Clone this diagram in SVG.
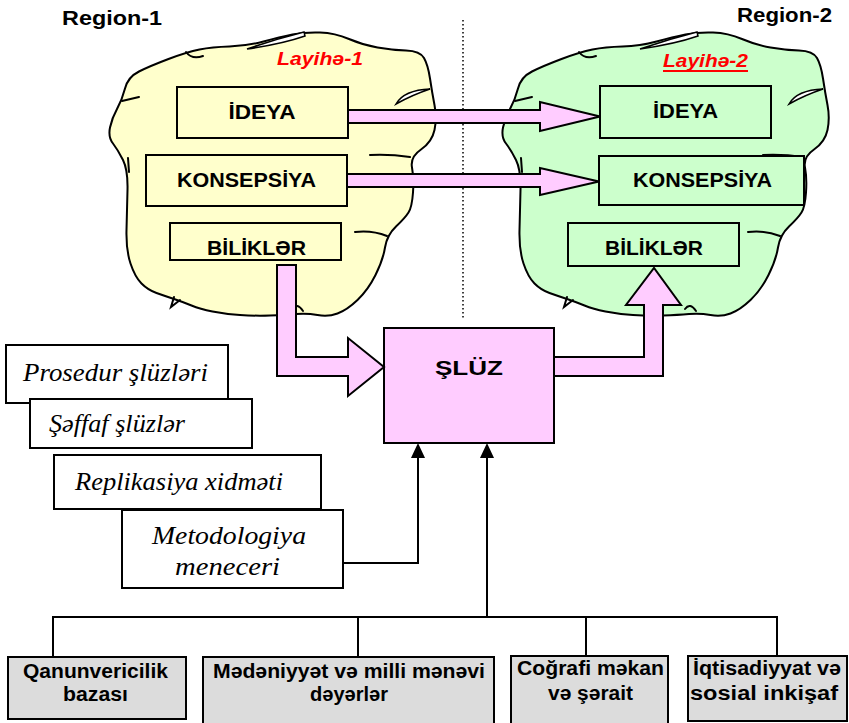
<svg xmlns="http://www.w3.org/2000/svg" xmlns:xlink="http://www.w3.org/1999/xlink" width="849" height="723" viewBox="0 0 849 723">
  <style>
    .box { stroke: #000; stroke-width: 2; }
    .yel { fill: #FFFFCC; }
    .grn { fill: #CCFFCC; }
    .pink { fill: #FFCCFF; stroke: #000; stroke-width: 2; stroke-linejoin: miter; }
    .white { fill: #FFFFFF; stroke: #000; stroke-width: 2; }
    .gray { fill: #DCDCDC; stroke: #000; stroke-width: 2; }
    .wire { fill: none; stroke: #000; stroke-width: 2; }
    .lbl { font-family: "Liberation Sans", Arial, sans-serif; font-weight: bold; font-size: 21px; text-anchor: middle; fill: #000; }
    .reg { font-family: "Liberation Sans", Arial, sans-serif; font-weight: bold; font-size: 21px; fill: #000; }
    .proj { font-family: "Liberation Sans", Arial, sans-serif; font-weight: bold; font-style: italic; font-size: 19px; fill: #FF0000; }
    .it { font-family: "Liberation Serif", "Times New Roman", serif; font-style: italic; font-size: 25px; fill: #000; }
    .bot { font-family: "Liberation Sans", Arial, sans-serif; font-weight: bold; font-size: 20px; text-anchor: middle; fill: #000; }
  </style>
  <defs>
    <!-- hand-drawn cloud outline with its folds; fill comes from the <use> -->
    <g id="cloud">
      <path stroke="#000" stroke-width="2" stroke-linejoin="round" d="M125,88.5 Q128,77 139,71.5 Q150,66 168.5,59 Q187,52 199.5,49.5 Q212,47 229.5,46.5 Q247,46 263.5,41.5 Q280,37 292.5,34.5 Q305,32 320,32.5 Q335,33 349,39 Q363,45 377.5,47.5 Q392,50 406,50.5 Q420,51 424,58 Q428,65 430,78.5 Q432,92 434.5,105 Q437,118 434.5,130 Q432,142 421,149.5 Q410,157 412,167.5 Q414,178 413,192.5 Q412,207 408.5,212.5 Q405,218 396,226.5 Q387,235 385,247.5 Q383,260 375.5,275 Q368,290 357.5,300 Q347,310 337.5,313.5 Q328,317 317.5,315 Q307,313 296,314 Q285,315 270,315.5 Q255,316 240,315 Q225,314 212.5,311.5 Q200,309 191.5,305.5 Q183,302 174,299 Q165,296 156.5,293 Q148,290 141.5,283.5 Q135,277 130.5,263.5 Q126,250 126.5,230 Q127,210 127.5,190 Q128,170 123,160 Q118,150 113,143.5 Q108,137 110,127.5 Q112,118 117,109 Q122,100 125,88.5 Z"/>
      <path d="M247,49 Q276,39 304,32 L305,36 Q282,44 247,49 Z" fill="#FFFFFF" stroke="#000" stroke-width="1.5"/>
      <path d="M396,104 Q404,90 430,89 Q412,95 396,104 Z" fill="#FFFFFF" stroke="#000" stroke-width="1.5"/>
      <g fill="none" stroke="#000" stroke-width="2" stroke-linecap="round">
        <path d="M186,52 Q192,60 203,56"/>
        <path d="M122,101 L139,97"/>
        <path d="M128,158 L129,172"/>
        <path d="M370,155 Q390,154 410,157"/>
        <path d="M355,232 Q372,230 387,236"/>
        <path d="M174,297 L171,307 L180,300"/>
        <path d="M292,309 Q297,302 303,311"/>
      </g>
    </g>
  </defs>

  <!-- region labels and divider -->
  <g id="region-1-label"><text class="reg" x="62" y="25" textLength="100" lengthAdjust="spacingAndGlyphs">Region-1</text></g>
  <g id="region-2-label"><text class="reg" x="737" y="22" textLength="95" lengthAdjust="spacingAndGlyphs">Region-2</text></g>
  <line x1="463" y1="20" x2="463" y2="318" stroke="#000" stroke-width="1.5" stroke-dasharray="1.5 2.5"/>

  <!-- project clouds -->
  <g id="cloud-1"><use xlink:href="#cloud" fill="#FFFFCC"/></g>
  <g id="cloud-2"><use xlink:href="#cloud" fill="#CCFFCC" transform="translate(393,0)"/></g>

  <g id="project-1-title"><text class="proj" x="277" y="65" textLength="86" lengthAdjust="spacingAndGlyphs">Layihə-1</text></g>
  <g id="project-2-title">
    <text class="proj" x="663" y="67" textLength="85" lengthAdjust="spacingAndGlyphs">Layihə-2</text>
    <line x1="663" y1="71" x2="748" y2="71" stroke="#FF0000" stroke-width="2"/>
  </g>

  <!-- project 1 components -->
  <g id="p1-ideya"><rect class="box yel" x="177" y="87" width="171" height="51"/><text class="lbl" x="262" y="119" textLength="67" lengthAdjust="spacingAndGlyphs">İDEYA</text></g>
  <g id="p1-konsepsiya"><rect class="box yel" x="146" y="155" width="201" height="51"/><text class="lbl" x="246.5" y="187" textLength="139" lengthAdjust="spacingAndGlyphs">KONSEPSİYA</text></g>
  <g id="p1-bilikler"><rect class="box yel" x="170" y="223" width="171" height="37"/><text class="lbl" x="256.5" y="255" textLength="99" lengthAdjust="spacingAndGlyphs">BİLİKLƏR</text></g>

  <!-- project 2 components -->
  <g id="p2-ideya"><rect class="box grn" x="600" y="86" width="171" height="52"/><text class="lbl" x="685.5" y="118" textLength="65" lengthAdjust="spacingAndGlyphs">İDEYA</text></g>
  <g id="p2-konsepsiya"><rect class="box grn" x="599" y="156" width="205" height="49"/><text class="lbl" x="702.5" y="187" textLength="139" lengthAdjust="spacingAndGlyphs">KONSEPSİYA</text></g>
  <g id="p2-bilikler"><rect class="box grn" x="568" y="223" width="171" height="43"/><text class="lbl" x="654" y="255" textLength="98" lengthAdjust="spacingAndGlyphs">BİLİKLƏR</text></g>

  <!-- gateway -->
  <g id="gateway"><rect class="pink" x="384" y="328" width="170" height="115"/><text class="lbl" x="469" y="375" font-size="26" textLength="68" lengthAdjust="spacingAndGlyphs">ŞLÜZ</text></g>

  <!-- gateway components (stacked cards) -->
  <g id="card-procedural"><rect class="white" x="6" y="345" width="222" height="58"/><text class="it" x="23" y="381" textLength="185" lengthAdjust="spacingAndGlyphs">Prosedur şlüzləri</text></g>
  <g id="card-transparent"><rect class="white" x="30" y="399" width="222" height="49"/><text class="it" x="49" y="432" textLength="136" lengthAdjust="spacingAndGlyphs">Şəffaf şlüzlər</text></g>
  <g id="card-replication"><rect class="white" x="54" y="455" width="267" height="54"/><text class="it" x="75" y="490" textLength="208" lengthAdjust="spacingAndGlyphs">Replikasiya xidməti</text></g>
  <g id="card-methodology">
    <rect class="white" x="122" y="510" width="221" height="78"/>
    <text class="it" x="229" y="544" text-anchor="middle" textLength="154" lengthAdjust="spacingAndGlyphs">Metodologiya</text>
    <text class="it" x="227.5" y="575" text-anchor="middle" textLength="105" lengthAdjust="spacingAndGlyphs">meneceri</text>
  </g>

  <!-- environment factors -->
  <g id="factor-law"><rect class="gray" x="8" y="657" width="178" height="62"/>
    <text class="bot" x="95.5" y="678" textLength="145" lengthAdjust="spacingAndGlyphs">Qanunvericilik</text>
    <text class="bot" x="95.5" y="701" textLength="65" lengthAdjust="spacingAndGlyphs">bazası</text></g>
  <g id="factor-culture"><rect class="gray" x="203" y="657" width="291" height="75"/>
    <text class="bot" x="349" y="678" textLength="272" lengthAdjust="spacingAndGlyphs">Mədəniyyət və milli mənəvi</text>
    <text class="bot" x="349" y="701" textLength="78" lengthAdjust="spacingAndGlyphs">dəyərlər</text></g>
  <g id="factor-geography"><rect class="gray" x="511" y="656" width="157" height="76"/>
    <text class="bot" x="590.5" y="675" textLength="147" lengthAdjust="spacingAndGlyphs">Coğrafi məkan</text>
    <text class="bot" x="590.5" y="700" textLength="85" lengthAdjust="spacingAndGlyphs">və şərait</text></g>
  <g id="factor-economy"><rect class="gray" x="688" y="656" width="159" height="65"/>
    <text class="bot" x="767" y="675" textLength="148" lengthAdjust="spacingAndGlyphs">İqtisadiyyat və</text>
    <text class="bot" x="764" y="700" textLength="148" lengthAdjust="spacingAndGlyphs">sosial inkişaf</text></g>

  <!-- connectors -->
  <g id="connectors">
    <polygon class="pink" points="348,110 540,110 540,102 600,116.5 540,131 540,123 348,123"/>
    <polygon class="pink" points="347,174 540,174 540,168 599,181.5 540,195 540,187 347,187"/>
    <polygon class="pink" points="277,265 296,265 296,357 348,357 348,338 384,367 348,396 348,376 277,376"/>
    <polygon class="pink" points="554,357 644,357 644,305 626,305 654,268 681,305 663,305 663,376 554,376"/>

    <polyline class="wire" points="343,563 418,563 418,456"/>
    <polygon points="418,443 411,458 425,458" fill="#000"/>
    <line class="wire" x1="487" y1="456" x2="487" y2="617"/>
    <polygon points="487,443 480,458 494,458" fill="#000"/>

    <polyline class="wire" points="53,657 53,617 777,617 777,656"/>
    <line class="wire" x1="358" y1="617" x2="358" y2="657"/>
    <line class="wire" x1="586" y1="617" x2="586" y2="656"/>
  </g>
</svg>
